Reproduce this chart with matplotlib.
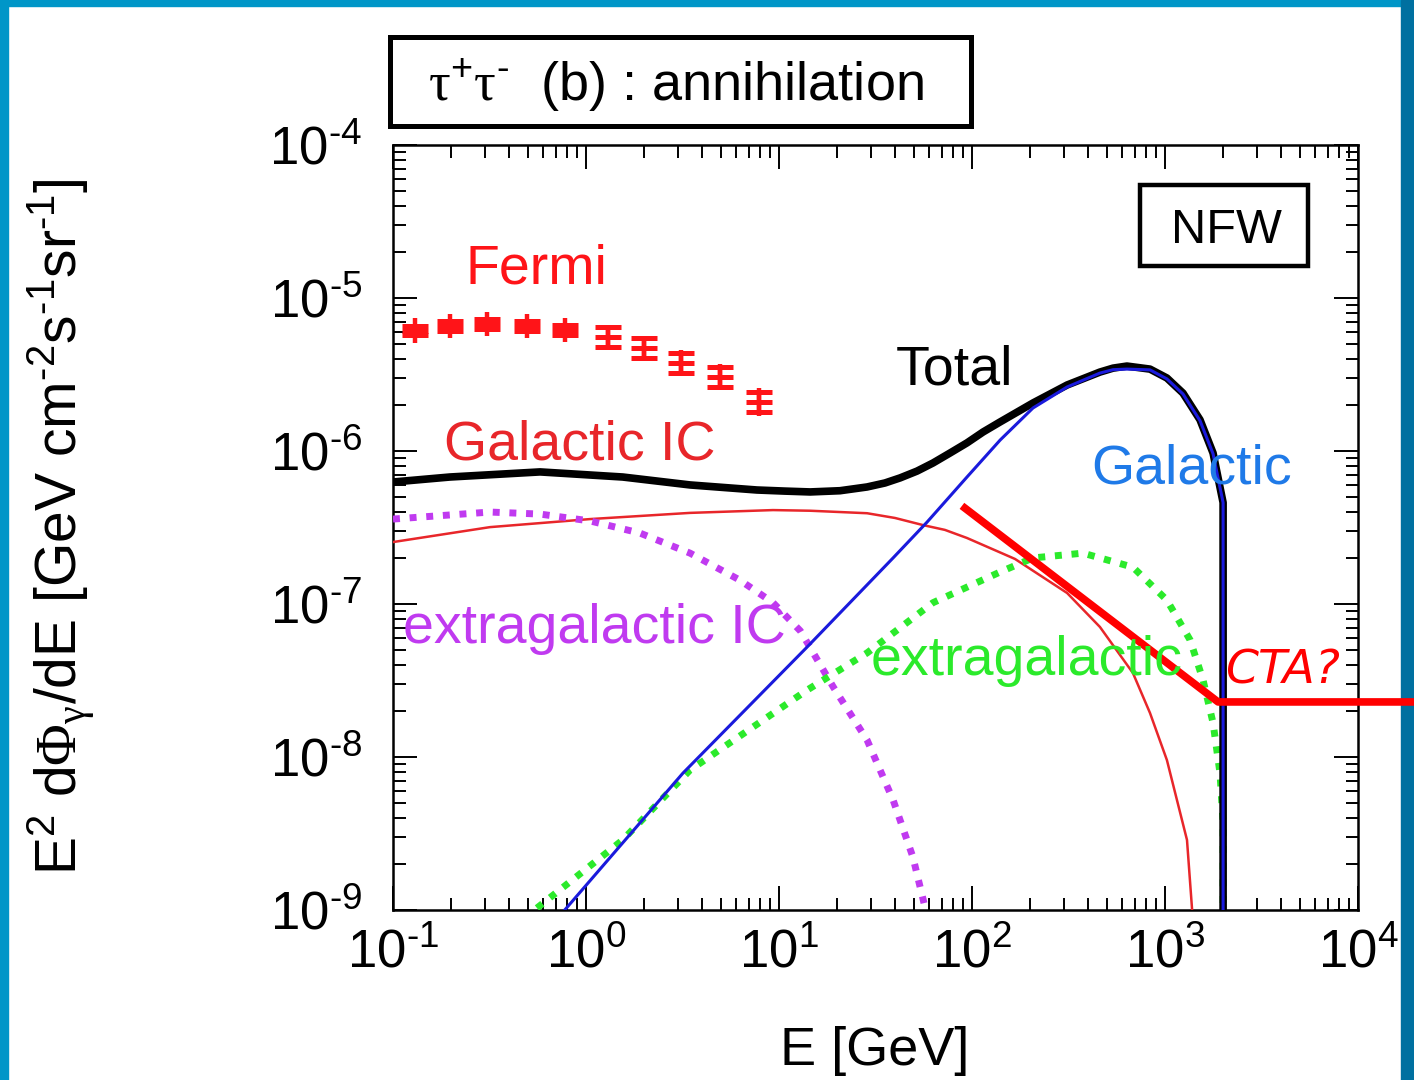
import matplotlib
matplotlib.use("Agg")
import matplotlib.pyplot as plt
from matplotlib.patches import Rectangle
from matplotlib.ticker import FuncFormatter, LogLocator, NullFormatter
import numpy as np

# ===================
# CONFIGURATION
# ===================
FIG_W, FIG_H = 1414, 1080
DPI = 100
OUTPUT_FILENAME = "out.png"

FERMI_RED = "#FF1418"
IC_RED = "#E8262A"
PURPLE = "#C03AF0"
GREEN = "#2BEA2B"
BLUE = "#1A1ADC"
GAL_TEXT_BLUE = "#1F7AE8"

# ===================
# DATA
# ===================
x_decades = [0.1, 1, 10, 100, 1000, 10000]
y_decades = [1e-9, 1e-8, 1e-7, 1e-6, 1e-5, 1e-4]

fermi_energy = [0.130, 0.197, 0.307, 0.494, 0.778, 1.30, 2.0, 3.10, 4.94, 7.87]
fermi_flux = [6.11e-6, 6.56e-6, 6.76e-6, 6.56e-6, 6.18e-6, 5.56e-6, 4.71e-6, 3.76e-6, 3.05e-6, 2.09e-6]
fermi_sys_dex = [0.08, 0.08, 0.08, 0.08, 0.08, 0.08, 0.08, 0.085, 0.085, 0.09]
fermi_stat_dex = [0.03, 0.03, 0.03, 0.03, 0.03, 0.065, 0.065, 0.065, 0.065, 0.065]

total_energy = [0.1, 0.197, 0.578, 1.55, 3.46, 7.69, 10.7, 14.5, 20.7, 28.6, 35.4, 42.4, 51.9,
                62.8, 76.9, 94.2, 114, 140, 207, 311, 460, 538, 635, 836, 1023, 1239, 1518,
                1774, 2000, 2000]
total_flux = [6.27e-7, 6.76e-7, 7.30e-7, 6.76e-7, 6.0e-7, 5.56e-7, 5.47e-7, 5.40e-7, 5.50e-7,
              5.82e-7, 6.18e-7, 6.67e-7, 7.39e-7, 8.35e-7, 9.7e-7, 1.13e-6, 1.33e-6, 1.55e-6,
              2.06e-6, 2.70e-6, 3.28e-6, 3.48e-6, 3.59e-6, 3.43e-6, 3.00e-6, 2.39e-6, 1.60e-6,
              9.70e-7, 4.6e-7, 1e-10]

galactic_energy = [0.76, 3.18, 14.0, 39.0, 58.5, 94.2, 140, 207, 311, 460, 538, 635, 836, 1023,
                   1239, 1518, 1774, 2000, 2000]
galactic_flux = [9.7e-10, 7.85e-9, 5.24e-8, 2.00e-7, 3.43e-7, 6.76e-7, 1.18e-6, 1.91e-6, 2.62e-6,
                 3.23e-6, 3.40e-6, 3.43e-6, 3.39e-6, 2.96e-6, 2.36e-6, 1.58e-6, 9.6e-7, 4.6e-7, 1e-10]

gal_ic_energy = [0.1, 0.318, 1.05, 3.46, 9.31, 14.5, 28.6, 39.9, 55.7, 72.4, 94.2, 167, 311,
                 460, 682, 836, 1023, 1300, 1400]
gal_ic_flux = [2.54e-7, 3.18e-7, 3.59e-7, 3.94e-7, 4.11e-7, 4.07e-7, 3.92e-7, 3.65e-7, 3.28e-7,
               3.05e-7, 2.70e-7, 1.97e-7, 1.18e-7, 7.08e-8, 3.54e-8, 1.94e-8, 9.55e-9, 2.87e-9, 8e-10]

eg_ic_energy = [0.1, 0.318, 0.578, 1.05, 1.90, 3.46, 6.28, 9.31, 12.9, 19.1, 28.6, 39.0,
                49.4, 57.0, 59.0]
eg_ic_flux = [3.59e-7, 3.99e-7, 3.87e-7, 3.49e-7, 2.91e-7, 2.15e-7, 1.43e-7, 1.02e-7, 6.67e-8,
              2.87e-8, 1.29e-8, 5.24e-9, 2.22e-9, 1.05e-9, 8e-10]

eg_energy = [0.557, 1.55, 3.46, 14.0, 28.6, 62.8, 140, 207, 376, 682, 1023, 1349, 1575, 1774,
             1927, 2000, 2000]
eg_flux = [1.03e-9, 2.87e-9, 8.22e-9, 2.74e-8, 4.79e-8, 1.02e-7, 1.62e-7, 2.00e-7, 2.15e-7,
           1.74e-7, 1.06e-7, 5.82e-8, 3.18e-8, 1.67e-8, 7.85e-9, 3.71e-9, 1e-10]

cta_energy = [88.7, 1884, 2.2e4]
cta_flux = [4.38e-7, 2.29e-8, 2.29e-8]

# ===================
# FUNCTIONS
# ===================

def fig_xy(x, y):
    # pixel position (from top-left) -> figure fraction
    return x / FIG_W, 1 - y / FIG_H


def decade_label(v, pos):
    p = round(np.log10(v))
    if p < 0:
        return r"$\mathregular{10^{\text{-}%d}}$" % (-p)
    return r"$\mathregular{10^{%d}}$" % p


def add_box(fig, x0, y0, x1, y1, lw):
    fx0, fy1 = fig_xy(x0, y1)
    fx1, fy0 = fig_xy(x1, y0)
    fig.patches.append(Rectangle((fx0, fy1), fx1 - fx0, fy0 - fy1, transform=fig.transFigure,
                                 fill=False, edgecolor="black", linewidth=lw))


def draw_fermi(ax):
    flux = np.array(fermi_flux)
    sys_f = 10 ** np.array(fermi_sys_dex)
    stat_f = 10 ** np.array(fermi_stat_dex)
    ax.errorbar(fermi_energy, flux, yerr=[flux - flux / sys_f, flux * sys_f - flux],
                fmt="none", ecolor=FERMI_RED, elinewidth=3.2, capsize=0, zorder=5)
    ax.errorbar(fermi_energy, flux, yerr=[flux - flux / stat_f, flux * stat_f - flux],
                fmt="_", color=FERMI_RED, ms=18.5, mew=3.6, ecolor=FERMI_RED, elinewidth=3.2,
                capsize=9.2, capthick=3.6, zorder=5)


# ===================
# MAIN
# ===================

def main():
    plt.rcParams["font.family"] = "Liberation Sans"
    plt.rcParams["mathtext.fontset"] = "custom"
    plt.rcParams["mathtext.rm"] = "Liberation Sans"
    plt.rcParams["mathtext.it"] = "Liberation Sans:italic"
    plt.rcParams["mathtext.bf"] = "Liberation Serif"

    fig = plt.figure(figsize=(FIG_W / DPI, FIG_H / DPI), dpi=DPI)

    # slide frame
    fig.patches.append(Rectangle((0, 0), 8 / FIG_W, 1, transform=fig.transFigure,
                                 color="#0096C8", zorder=-2))
    fig.patches.append(Rectangle((0, 1 - 6 / FIG_H), 1, 6 / FIG_H, transform=fig.transFigure,
                                 color="#0096C8", zorder=-2))
    fig.patches.append(Rectangle((1401 / FIG_W, 0), 13 / FIG_W, 1, transform=fig.transFigure,
                                 color="#0070A0", zorder=-2))

    ax = fig.add_axes([393 / FIG_W, 1 - 910 / FIG_H, 965 / FIG_W, 765 / FIG_H])
    ax.set_xscale("log")
    ax.set_yscale("log")
    ax.set_xticks(x_decades)
    ax.set_yticks(y_decades)
    ax.set_xlim(0.1, 1e4)
    ax.set_ylim(1e-9, 1e-4)

    for axis in (ax.xaxis, ax.yaxis):
        axis.set_minor_locator(LogLocator(base=10, subs=np.arange(2, 10), numticks=12))
        axis.set_major_formatter(FuncFormatter(decade_label))
        axis.set_minor_formatter(NullFormatter())
    ax.tick_params(which="both", direction="in", top=True, right=True, width=1.4,
                   labelsize=38)
    ax.tick_params(which="major", length=17)
    ax.tick_params(which="minor", length=9)
    ax.tick_params(axis="x", pad=13)
    ax.tick_params(axis="y", pad=22)
    for sp in ax.spines.values():
        sp.set_linewidth(1.8)

    # curves
    ax.plot(gal_ic_energy, gal_ic_flux, color=IC_RED, lw=1.8, zorder=3)
    ax.plot(eg_ic_energy, eg_ic_flux, color=PURPLE, lw=5, linestyle=(0, (1.0, 1.4)),
            dash_capstyle="butt", zorder=3)
    ax.plot(eg_energy, eg_flux, color=GREEN, lw=5, linestyle=(0, (1.0, 1.4)),
            dash_capstyle="butt", zorder=3)
    ax.plot(total_energy, total_flux, color="black", lw=5.5, zorder=4,
            solid_joinstyle="round")
    ax.plot(galactic_energy, galactic_flux, color=BLUE, lw=2.2, zorder=4.5)
    draw_fermi(ax)

    # hand-drawn CTA sensitivity
    ax.plot(cta_energy, cta_flux, color="#FF0000", lw=5.5, clip_on=False, zorder=10,
            solid_capstyle="butt")

    # labels inside the plot
    def label(x, y, s, color, size=40, **kw):
        fx, fy = fig_xy(x, y)
        fig.text(fx, fy, s, color=color, fontsize=size, ha="center", va="baseline", **kw)

    label(536, 284, "Fermi", FERMI_RED)
    label(955, 385, "Total", "black")
    label(580, 459, "Galactic IC", IC_RED)
    label(1192, 484, "Galactic", GAL_TEXT_BLUE)
    label(594, 643, "extragalactic IC", PURPLE)
    label(1027, 675, "extragalactic", GREEN)
    label(1283, 683, "CTA?", "#FF0000", size=34, family="DejaVu Sans", style="italic")

    # NFW box
    add_box(fig, 1140, 185, 1308, 266, 3.2)
    label(1226, 243, "NFW", "black", size=35)

    # title box
    add_box(fig, 390, 37, 971, 126, 3.6)
    label(676, 101, r"$\mathbf{\tau}^{+}\mathbf{\tau}^{\text{-}}$  (b) : annihilation",
          "black", size=39)

    # axis titles
    fx, fy = fig_xy(875, 1051)
    fig.text(fx, fy, "E [GeV]", fontsize=39, ha="center", va="center")
    fx, fy = fig_xy(62, 527)
    fig.text(fx, fy,
             r"E$^{2}$ d$\mathbf{\Phi}_{\mathbf{\gamma}}$/dE [GeV cm$^{\text{-}2}$s$^{\text{-}1}$sr$^{\text{-}1}$]",
             fontsize=41, rotation=90, ha="center", va="center")

    fig.savefig(OUTPUT_FILENAME, dpi=DPI)
    plt.close(fig)


if __name__ == "__main__":
    main()
